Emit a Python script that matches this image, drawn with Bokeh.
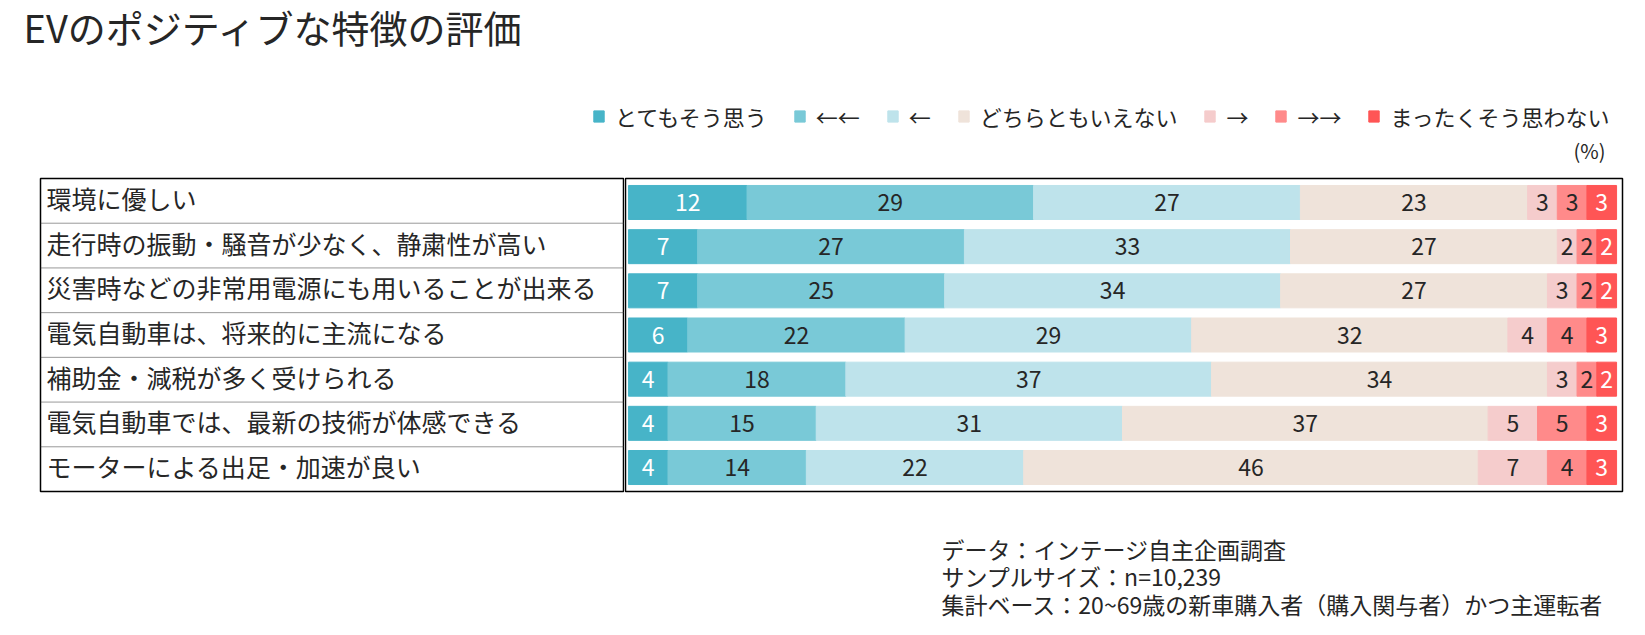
import numpy as np
from bokeh.plotting import figure
from bokeh.models import Range1d, FactorRange, ColumnDataSource, Label, Legend, LegendItem
from bokeh.layouts import row, column
from bokeh.embed import file_html
from bokeh.resources import INLINE
from bokeh.core.properties import value
from bokeh.transform import dodge

# ---------------- data ----------------
title_text = "EVのポジティブな特徴の評価"
categories = [
    "環境に優しい",
    "走行時の振動・騒音が少なく、静粛性が高い",
    "災害時などの非常用電源にも用いることが出来る",
    "電気自動車は、将来的に主流になる",
    "補助金・減税が多く受けられる",
    "電気自動車では、最新の技術が体感できる",
    "モーターによる出足・加速が良い",
]
series_names = ["とてもそう思う", "←←", "←", "どちらともいえない", "→", "→→", "まったくそう思わない"]
very_agree = [12, 7, 7, 6, 4, 4, 4]
agree_2 = [29, 27, 25, 22, 18, 15, 14]
agree_1 = [27, 33, 34, 29, 37, 31, 22]
neutral = [23, 27, 27, 32, 34, 37, 46]
disagree_1 = [3, 2, 3, 4, 3, 5, 7]
disagree_2 = [3, 2, 2, 4, 2, 5, 4]
strongly_disagree = [3, 2, 2, 3, 2, 3, 3]
unit_text = "(%)"
notes = [
    "データ：インテージ自主企画調査",
    "サンプルサイズ：n=10,239",
    "集計ベース：20~69歳の新車購入者（購入関与者）かつ主運転者",
]

series_values = [very_agree, agree_2, agree_1, neutral, disagree_1, disagree_2, strongly_disagree]
series_keys = ["s%d" % i for i in range(len(series_values))]
colors = ["#47B4C8", "#79C9D7", "#BEE3EB", "#EFE3DA", "#F5CCCC", "#FF8A8A", "#FF5555"]
label_colors = ["#FFFFFF", "#262626", "#262626", "#262626", "#262626", "#262626", "#FFFFFF"]

FONT = "Noto Sans CJK JP"
TXT = "#262626"
W = 1645
HEAD_H = 176
MID_H = 317
FOOT_H = 142

factors = categories[::-1]

data = dict(cat=categories)
for k, v in zip(series_keys, series_values):
    data[k] = v
src = ColumnDataSource(data)


def blank(fig):
    fig.grid.visible = False
    fig.background_fill_color = "white"
    fig.border_fill_color = "white"
    fig.outline_line_color = None


# ---------------- header (title, legend, unit) ----------------
head = figure(width=W, height=HEAD_H, x_range=Range1d(0, 1), y_range=Range1d(0, 1),
              output_backend="svg", toolbar_location=None,
              x_axis_location=None, y_axis_location=None,
              min_border=0, min_border_left=0, min_border_right=0, min_border_top=0, min_border_bottom=0)
blank(head)
head.add_layout(Label(x=23, y=HEAD_H - 26, x_units="screen", y_units="screen",
                      text=title_text, text_font=FONT, text_font_size="38px",
                      text_color=TXT, text_baseline="middle", text_align="left"))

legend_renderers = head.hbar_stack(series_keys, y="cat", height=0.77, color=colors,
                                   source=src, visible=False)
legend = Legend(items=[LegendItem(label=n, renderers=[r]) for n, r in zip(series_names, legend_renderers)],
                orientation="horizontal", location=(592, HEAD_H - 119 - 13),
                glyph_width=13, glyph_height=14, label_standoff=10, spacing=26,
                padding=0, margin=0, border_line_color=None, background_fill_alpha=0,
                inactive_fill_alpha=0,
                label_text_font=FONT, label_text_font_size="22px", label_text_color=TXT,
                label_height=26)
head.add_layout(legend)

head.add_layout(Label(x=1605, y=HEAD_H - 150, x_units="screen", y_units="screen",
                      text=unit_text, text_font=FONT, text_font_size="20px",
                      text_color=TXT, text_baseline="middle", text_align="right"))

# ---------------- left table ----------------
tbl = figure(width=624, height=MID_H, x_range=Range1d(0, 1), y_range=FactorRange(factors=factors),
             output_backend="svg", toolbar_location=None,
             x_axis_location=None, y_axis_location=None,
             min_border_left=40, min_border_right=0, min_border_top=2, min_border_bottom=2)
blank(tbl)
tbl.outline_line_color = "black"
tbl.outline_line_width = 1.5

tsrc = ColumnDataSource(dict(cat=categories, x=[0] * len(categories)))
tbl.text(x="x", y="cat", text="cat", source=tsrc, x_offset=6, y_offset=-3,
         text_font=value(FONT), text_font_size="25px", text_color=TXT,
         text_baseline="middle", text_align="left")

sep_src = ColumnDataSource(dict(cat=categories[:-1], x0=[0] * (len(categories) - 1),
                                x1=[1] * (len(categories) - 1)))
tbl.segment(x0="x0", x1="x1", y0=dodge("cat", -0.5, range=tbl.y_range),
            y1=dodge("cat", -0.5, range=tbl.y_range), source=sep_src,
            line_color="#333333", line_width=1, line_dash="1 1")

# ---------------- bars ----------------
bar = figure(width=W - 624, height=MID_H, x_range=Range1d(-0.3, 100.6),
             y_range=FactorRange(factors=factors, range_padding=0.0123),
             output_backend="svg", toolbar_location=None,
             x_axis_location=None, y_axis_location=None,
             min_border_left=1, min_border_right=23, min_border_top=2, min_border_bottom=2)
blank(bar)
bar.outline_line_color = "black"
bar.outline_line_width = 1.5

bar.hbar_stack(series_keys, y="cat", height=0.77, color=colors, source=src)

vals = np.array(series_values, dtype=float)
cum = np.cumsum(vals, axis=0)
centers = cum - vals / 2.0
lx, ly, lt, lc = [], [], [], []
for i in range(len(series_values)):
    for j, c in enumerate(categories):
        lx.append(centers[i, j])
        ly.append(c)
        lt.append(str(series_values[i][j]))
        lc.append(label_colors[i])
lsrc = ColumnDataSource(dict(x=lx, y=ly, t=lt, c=lc))
bar.text(x="x", y="y", text="t", text_color="c", source=lsrc,
         text_font=value(FONT), text_font_size="23px",
         text_align="center", text_baseline="middle")

# ---------------- footer ----------------
foot = figure(width=W, height=FOOT_H, x_range=Range1d(0, 1), y_range=Range1d(0, 1),
              output_backend="svg", toolbar_location=None,
              x_axis_location=None, y_axis_location=None,
              min_border=0, min_border_left=0, min_border_right=0, min_border_top=0, min_border_bottom=0)
blank(foot)
for i, line in enumerate(notes):
    foot.add_layout(Label(x=941, y=FOOT_H - (55 + 27.5 * i), x_units="screen", y_units="screen",
                          text=line, text_font=FONT, text_font_size="23px",
                          text_color=TXT, text_baseline="middle", text_align="left"))

layout = column(head, row(tbl, bar), foot)
open("out.html", "w").write(file_html(layout, INLINE))
